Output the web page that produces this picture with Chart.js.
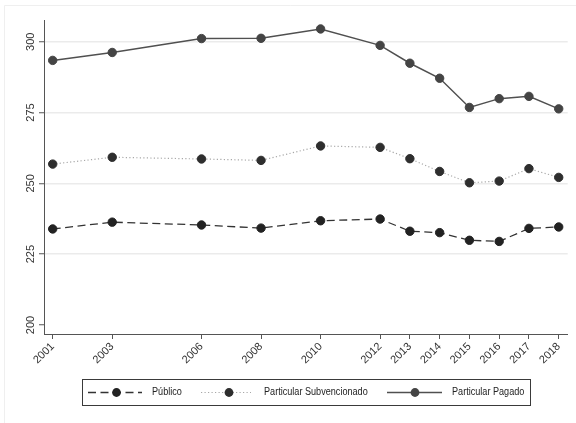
<!DOCTYPE html>
<html>
<head>
<meta charset="utf-8">
<script src="https://cdn.jsdelivr.net/npm/chart.js@4/dist/chart.umd.min.js"></script>
<style>
  html, body { margin: 0; padding: 0; background: #ffffff; }
  canvas { display: block; }
</style>
</head>
<body>
<canvas id="chart" width="576" height="423"></canvas>
<script>
// Survey years (plotted on a true linear time axis)
const years = [2001, 2003, 2006, 2008, 2010, 2012, 2013, 2014, 2015, 2016, 2017, 2018];

// Mean scores by school type
const publico        = [233.9, 236.3, 235.3, 234.2, 236.8, 237.4, 233.1, 232.6, 229.9, 229.5, 234.1, 234.6];
const subvencionado  = [256.8, 259.2, 258.6, 258.1, 263.2, 262.7, 258.7, 254.2, 250.2, 250.8, 255.2, 252.1];
const pagado         = [293.4, 296.2, 301.1, 301.2, 304.5, 298.7, 292.4, 287.1, 276.8, 279.9, 280.7, 276.3];

// Axis ticks
const yTicks = [200, 225, 250, 275, 300];

const seriesNames = ['Público', 'Particular Subvencionado', 'Particular Pagado'];

const FONT = '"Liberation Sans", Arial, Helvetica, sans-serif';

function toPoints(vals) {
  return years.map((y, i) => ({ x: y, y: vals[i] }));
}

const datasets = [
  {
    label: seriesNames[0],
    data: toPoints(publico),
    borderColor: '#333333',
    borderWidth: 1.3,
    borderDash: [8, 4.5],
    pointBackgroundColor: '#222222',
    pointBorderColor: '#222222',
    pointBorderWidth: 1,
    pointRadius: 4.2,
    tension: 0
  },
  {
    label: seriesNames[1],
    data: toPoints(subvencionado),
    borderColor: '#a8a8a8',
    borderWidth: 1.2,
    borderDash: [1.2, 2.3],
    pointBackgroundColor: '#2e2e2e',
    pointBorderColor: '#2e2e2e',
    pointBorderWidth: 1,
    pointRadius: 4.2,
    tension: 0
  },
  {
    label: seriesNames[2],
    data: toPoints(pagado),
    borderColor: '#505050',
    borderWidth: 1.5,
    pointBackgroundColor: '#444444',
    pointBorderColor: '#444444',
    pointBorderWidth: 1,
    pointRadius: 4.2,
    tension: 0
  }
];

// White page with a faint outer frame
const pageBackground = {
  id: 'pageBackground',
  beforeDraw(chart) {
    const ctx = chart.ctx;
    ctx.save();
    ctx.fillStyle = '#ffffff';
    ctx.fillRect(0, 0, chart.width, chart.height);
    ctx.strokeStyle = '#efefef';
    ctx.lineWidth = 1;
    ctx.beginPath();
    ctx.moveTo(4.5, chart.height);
    ctx.lineTo(4.5, 5.5);
    ctx.lineTo(chart.width, 5.5);
    ctx.stroke();
    ctx.restore();
  }
};

// Vertical (bottom-to-top) y tick labels, centred on their ticks
const yLabels = {
  id: 'yLabels',
  afterDraw(chart) {
    const ctx = chart.ctx;
    const sc = chart.scales.y;
    ctx.save();
    ctx.fillStyle = '#333333';
    ctx.font = '11px ' + FONT;
    ctx.textAlign = 'center';
    ctx.textBaseline = 'middle';
    sc.ticks.forEach(t => {
      const py = sc.getPixelForValue(t.value);
      ctx.save();
      ctx.translate(31.3, py);
      ctx.rotate(-Math.PI / 2);
      ctx.fillText(String(t.value), 0, 0);
      ctx.restore();
    });
    ctx.restore();
  }
};

// Boxed legend below the plot: line sample with marker, then the series name
const boxLegend = {
  id: 'boxLegend',
  afterDraw(chart) {
    const ctx = chart.ctx;
    const box = { l: 82.5, t: 379.5, r: 530.5, b: 405.5 };
    const cy = 392.5;
    const items = [
      { x0: 88, x1: 142, mx: 116.5, tx: 152 },
      { x0: 201, x1: 251, mx: 229, tx: 264 },
      { x0: 387, x1: 442, mx: 415, tx: 452 }
    ];
    ctx.save();
    ctx.strokeStyle = '#3a3a3a';
    ctx.lineWidth = 1;
    ctx.strokeRect(box.l, box.t, box.r - box.l, box.b - box.t);

    chart.data.datasets.forEach((ds, i) => {
      const it = items[i];
      ctx.save();
      ctx.strokeStyle = ds.borderColor;
      ctx.lineWidth = ds.borderWidth;
      ctx.setLineDash(ds.borderDash || []);
      ctx.beginPath();
      ctx.moveTo(it.x0, cy);
      ctx.lineTo(it.x1, cy);
      ctx.stroke();
      ctx.setLineDash([]);
      ctx.fillStyle = ds.pointBackgroundColor;
      ctx.beginPath();
      ctx.arc(it.mx, cy, 4.4, 0, Math.PI * 2);
      ctx.fill();
      ctx.restore();

      ctx.save();
      ctx.fillStyle = '#222222';
      ctx.font = '10px ' + FONT;
      ctx.textAlign = 'left';
      ctx.textBaseline = 'middle';
      ctx.translate(it.tx, cy);
      ctx.scale(0.91, 1);
      ctx.fillText(ds.label, 0, 0);
      ctx.restore();
    });
    ctx.restore();
  }
};

new Chart(document.getElementById('chart'), {
  type: 'line',
  data: { datasets },
  options: {
    responsive: false,
    animation: false,
    devicePixelRatio: 1,
    layout: { padding: { top: 20, right: 8.3, left: 0, bottom: 0 } },
    plugins: {
      legend: { display: false },
      tooltip: { enabled: false }
    },
    scales: {
      x: {
        type: 'linear',
        min: 2000.708,
        max: 2018.302,
        afterBuildTicks(scale) {
          scale.ticks = years.map(v => ({ value: v }));
        },
        afterFit(scale) { scale.height = 89; },
        ticks: {
          autoSkip: false,
          minRotation: 45,
          maxRotation: 45,
          padding: 1,
          color: '#333333',
          font: { family: FONT, size: 11 },
          callback: v => String(v)
        },
        grid: {
          display: true,
          drawOnChartArea: false,
          drawTicks: true,
          tickLength: 5,
          tickColor: '#555555',
          tickWidth: 1
        },
        border: { display: true, color: '#555555', width: 1 }
      },
      y: {
        type: 'linear',
        min: 196.82,
        max: 307.66,
        afterBuildTicks(scale) {
          scale.ticks = yTicks.map(v => ({ value: v }));
        },
        afterFit(scale) { scale.width = 44; },
        ticks: { display: false },
        grid: {
          display: true,
          drawTicks: true,
          tickLength: 5,
          lineWidth: 1.5,
          color: ctx => (ctx.tick && ctx.tick.value === 200) ? 'rgba(0,0,0,0)' : '#ebebeb',
          tickColor: '#555555',
          tickWidth: 1
        },
        border: { display: true, color: '#555555', width: 1 }
      }
    }
  },
  plugins: [pageBackground, yLabels, boxLegend]
});
</script>
</body>
</html>
